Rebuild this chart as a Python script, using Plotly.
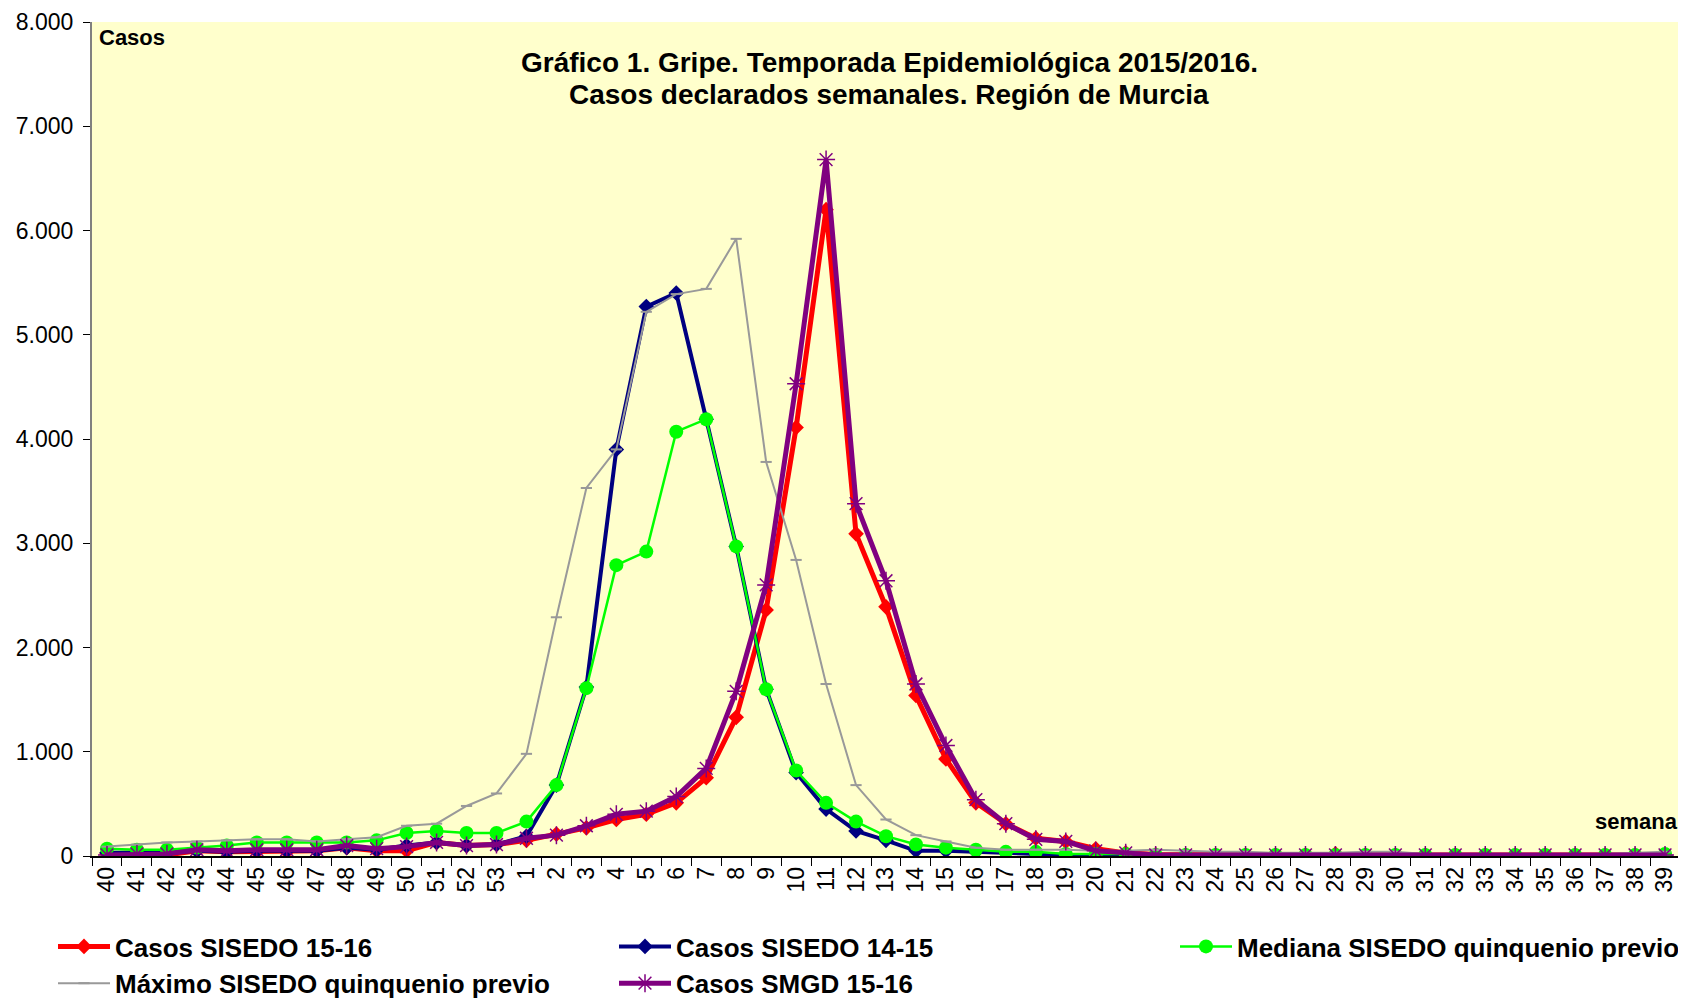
import plotly.graph_objects as go

weeks = [str(w) for w in range(40, 54)] + [str(w) for w in range(1, 40)]

casos_sisedo_1516 = [20, 30, 10, 50, 40, 40, 40, 50, 80, 50, 50, 130, 100, 110,
                     150, 210, 270, 350, 400, 510, 750, 1330, 2360, 4110, 6200, 3090, 2390, 1540,
                     930, 510, 310, 170, 140, 70, 30, 15, 10, 10, 10, 10, 10, 20, 10, 10,
                     10, 10, 10, 10, 10, 10, 10, 10, 10]
casos_sisedo_1415 = [30, 30, 30, 50, 40, 50, 50, 50, 80, 60, 100, 130, 100, 110,
                     190, 680, 1620, 3900, 5270, 5400, 4190, 2970, 1600, 800, 450, 240, 150, 50,
                     50, 40, 30, 20, 10, 10, 10, 5, 5, 5, 5, 5, 5, 5, 5, 5,
                     5, 5, 5, 5, 5, 5, 5, 5, 5]
mediana_quinquenio = [70, 60, 60, 80, 100, 130, 130, 130, 130, 150, 220, 240, 220, 220,
                      330, 680, 1610, 2790, 2920, 4070, 4190, 2970, 1600, 820, 510, 330, 190, 110,
                      80, 60, 40, 40, 20, 20, 20, 10, 10, 10, 10, 10, 10, 10, 10, 10,
                      10, 10, 10, 10, 10, 10, 10, 10, 20]
maximo_quinquenio = [90, 110, 130, 140, 150, 160, 160, 140, 160, 180, 290, 310, 480, 600,
                     980, 2290, 3530, 3900, 5220, 5390, 5440, 5920, 3780, 2840, 1650, 680, 350, 200,
                     140, 80, 60, 60, 60, 50, 50, 60, 50, 40, 40, 30, 30, 30, 40, 40,
                     20, 20, 20, 20, 20, 20, 20, 30, 40]
casos_smgd_1516 = [10, 20, 20, 60, 50, 60, 60, 60, 100, 70, 90, 130, 100, 110,
                   170, 200, 290, 400, 430, 570, 840, 1580, 2600, 4530, 6680, 3380, 2640, 1650,
                   1060, 540, 310, 160, 140, 50, 30, 10, 10, 10, 10, 10, 10, 10, 10, 10,
                   10, 10, 10, 10, 10, 10, 10, 10, 10]

title_line1 = "Gráfico 1. Gripe. Temporada Epidemiológica 2015/2016."
title_line2 = "Casos declarados semanales. Región de Murcia"

FONT = "Arial, Liberation Sans, sans-serif"
W, H = 1678, 992  # page body adds an 8px offset; this keeps the figure inside the window

fig = go.Figure()
fig.add_trace(go.Scatter(x=weeks, y=casos_sisedo_1516, name="Casos SISEDO 15-16", mode="lines+markers",
                         legend="legend",
                         line=dict(color="#FF0000", width=5),
                         marker=dict(symbol="diamond", size=12, color="#FF0000")))
fig.add_trace(go.Scatter(x=weeks, y=casos_sisedo_1415, name="Casos SISEDO 14-15", mode="lines+markers",
                         legend="legend2",
                         line=dict(color="#000080", width=4),
                         marker=dict(symbol="diamond", size=12, color="#000080")))
fig.add_trace(go.Scatter(x=weeks, y=mediana_quinquenio, name="Mediana SISEDO quinquenio previo", mode="lines+markers",
                         legend="legend3",
                         line=dict(color="#00FF00", width=2.5),
                         marker=dict(symbol="circle", size=14, color="#00FF00")))
fig.add_trace(go.Scatter(x=weeks, y=maximo_quinquenio, name="Máximo SISEDO quinquenio previo", mode="lines+markers",
                         legend="legend",
                         line=dict(color="#999999", width=2),
                         marker=dict(symbol="line-ew-open", size=8, color="#999999", line=dict(width=2, color="#999999"))))
fig.add_trace(go.Scatter(x=weeks, y=casos_smgd_1516, name="Casos SMGD 15-16", mode="lines+markers",
                         legend="legend2",
                         line=dict(color="#800080", width=5),
                         marker=dict(symbol="asterisk-open", size=15, color="#800080", line=dict(width=1.5, color="#800080"))))

leg_common = dict(orientation="v", xref="container", yref="container", xanchor="left", yanchor="top",
                  font=dict(family=FONT, size=26, color="black", weight="bold"),
                  itemwidth=52, bgcolor="rgba(0,0,0,0)", traceorder="normal", tracegroupgap=0)

fig.update_layout(
    width=W, height=H,
    paper_bgcolor="white", plot_bgcolor="#FFFFCC",
    margin=dict(l=84, r=6, t=14, b=144, autoexpand=False),
    separators=",.",
    font=dict(family=FONT, color="black"),
    showlegend=True,
    legend=dict(x=45 / W, y=77 / H, **leg_common),
    legend2=dict(x=606 / W, y=77 / H, **leg_common),
    legend3=dict(x=1167 / W, y=77 / H, **leg_common),
    annotations=[
        dict(text="<b>" + title_line1 + "</b>", xref="paper", yref="paper", x=0.502, y=0.952,
             xanchor="center", yanchor="middle", showarrow=False,
             font=dict(family=FONT, size=28, color="black")),
        dict(text="<b>" + title_line2 + "</b>", xref="paper", yref="paper", x=0.502, y=0.9125,
             xanchor="center", yanchor="middle", showarrow=False,
             font=dict(family=FONT, size=28, color="black")),
        dict(text="<b>Casos</b>", xref="paper", yref="paper", x=0.003, y=0.981, xanchor="left", yanchor="middle",
             showarrow=False, font=dict(family=FONT, size=22, color="black")),
        dict(text="<b>semana</b>", xref="paper", yref="paper", x=1.0, y=0.041, xanchor="right", yanchor="middle",
             showarrow=False, font=dict(family=FONT, size=22, color="black")),
    ],
)
fig.update_xaxes(type="category", range=[-0.5, len(weeks) - 0.5], autorange=False, automargin=False,
                 showgrid=False, showline=True, linecolor="black", linewidth=1.5,
                 ticks="outside", tickson="boundaries", ticklen=8, tickcolor="black",
                 tickangle=-90, tickfont=dict(family=FONT, size=23, color="black"))
fig.update_yaxes(range=[0, 8000], dtick=1000, tickformat=",d", automargin=False, showgrid=False, showline=True,
                 linecolor="#808080", linewidth=2, ticks="outside", ticklen=7, tickcolor="black",
                 ticklabelstandoff=5,
                 tickfont=dict(family=FONT, size=23, color="black"), zeroline=False)

fig.write_html("out.html")
